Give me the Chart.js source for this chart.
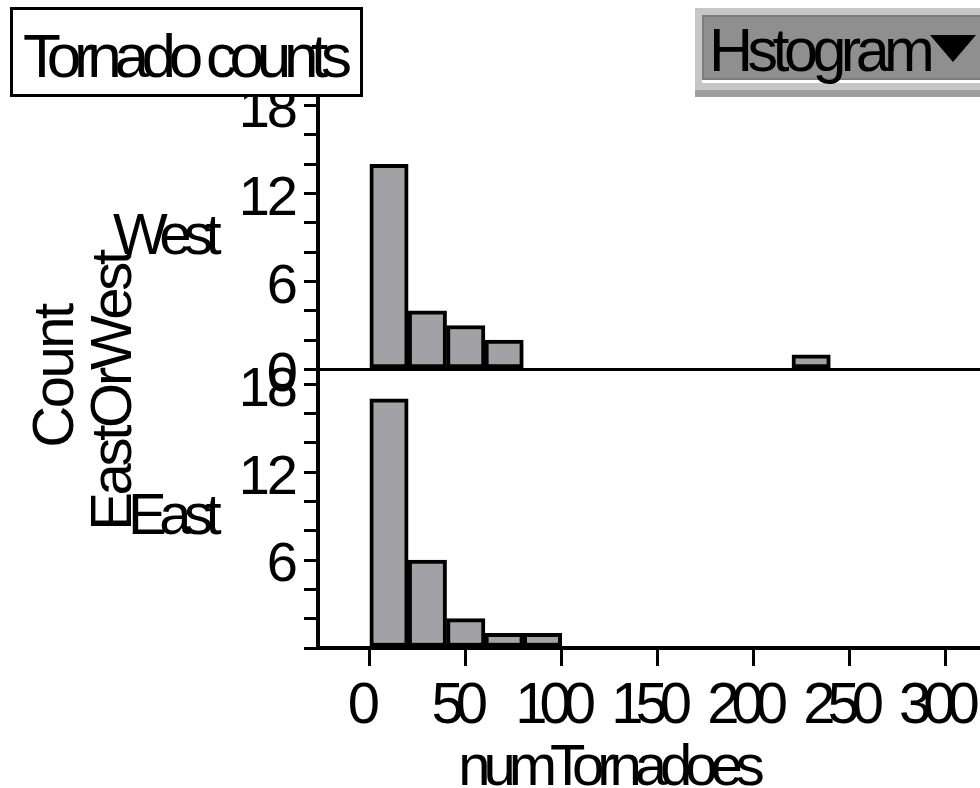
<!DOCTYPE html>
<html>
<head>
<meta charset="utf-8">
<script src="https://cdn.jsdelivr.net/npm/chart.js@4/dist/chart.umd.min.js"></script>
<style>
  html, body { margin: 0; padding: 0; background: #fff; }
  #wrap { position: relative; width: 980px; height: 788px; overflow: hidden;
          font-family: 'Liberation Sans', Arial, sans-serif; color: #000; }
  #chart { position: absolute; left: 0; top: 0; }
  #titleBox { position: absolute; left: 10px; top: 7px; width: 347px; height: 84px;
              border: 3px solid #000; background: #fff; }
  #titleBox span { position: absolute; left: 10px; top: 15px; font-size: 62px; line-height: 62px;
                   letter-spacing: -7.3px; white-space: nowrap; }
  #menu { position: absolute; left: 695px; top: 8px; width: 320px; height: 89px; background: #c6c6c6; }
  #menu .strip { position: absolute; left: 0; top: 82px; width: 100%; height: 7px; background: #9e9e9e; }
  #menu .face { position: absolute; left: 7px; top: 7px; width: 320px; height: 61px;
                background: #8f8f8f; border: 2px solid #7c7c7c; }
  #menu .shine { position: absolute; left: 7px; top: 72px; width: 320px; height: 3px; background: #fff; }
  #menu .label { position: absolute; left: 14px; top: 12px; font-size: 61px; line-height: 61px;
                 letter-spacing: -5.5px; white-space: nowrap; }
  #menu .arrow { position: absolute; left: 235px; top: 27px; width: 0; height: 0;
                 border-left: 23px solid transparent; border-right: 23px solid transparent;
                 border-top: 27px solid #000; }
</style>
</head>
<body>
<div id="wrap">
  <canvas id="chart" width="980" height="788"></canvas>
  <div id="titleBox"><span>Tornado counts</span></div>
  <div id="menu">
    <div class="face"></div>
    <div class="shine"></div>
    <div class="strip"></div>
    <div class="label">Hstogram</div>
    <div class="arrow"></div>
  </div>
</div>
<script>
// Histogram bins: lower edge of each bin (numTornadoes) and the count in it
const binWidth = 20;
const westBinStarts = [0, 20, 40, 60, 220];
const westCounts    = [14, 4, 3, 2, 1];
const eastBinStarts = [0, 20, 40, 60, 80];
const eastCounts    = [17, 6, 2, 1, 1];

// Axis ticks
const xTickValues = [0, 50, 100, 150, 200, 250, 300];
const yTickValues = [0, 2, 4, 6, 8, 10, 12, 14, 16, 18];
const yLabelEvery = 6;

const FONT = "'Liberation Sans', Arial, sans-serif";
const BAR_FILL = '#a2a1a6';

const toPoints = (starts, counts) =>
  starts.map((s, i) => ({ x: s + binWidth / 2, y: counts[i] }));

// Tick labels are set tightly: numbers on the x axis more so than the counts
const tickSpacing = { x: '-8px', y: '-3px' };
const tightTicks = {
  id: 'tightTicks',
  beforeDraw(chart) {
    for (const scale of Object.values(chart.scales)) {
      if (scale.$tight) continue;
      const drawLabels = scale.drawLabels;
      scale.drawLabels = function (area) {
        const ctx = this.ctx;
        const prev = ctx.letterSpacing;
        ctx.letterSpacing = tickSpacing[this.axis];
        drawLabels.call(this, area);
        ctx.letterSpacing = prev;
      };
      scale.$tight = true;
    }
  }
};

// Group labels (panel names) and axis titles
const axisText = {
  id: 'axisText',
  afterDraw(chart) {
    const { ctx, chartArea, scales } = chart;
    ctx.save();
    ctx.fillStyle = '#000';
    ctx.font = '58px ' + FONT;
    ctx.textBaseline = 'alphabetic';

    ctx.letterSpacing = '-7.5px';
    ctx.textAlign = 'right';
    const nameX = chartArea.left - 104;
    ctx.fillText('West', nameX, (scales.yWest.top + scales.yWest.bottom) / 2 + 24);
    ctx.fillText('East', nameX, (scales.yEast.top + scales.yEast.bottom) / 2 + 25);

    ctx.textAlign = 'center';
    const midY = (chartArea.top + chartArea.bottom) / 2;
    ctx.letterSpacing = '-3.3px';
    ctx.save();
    ctx.translate(chartArea.left - 187, midY + 22);
    ctx.rotate(-Math.PI / 2);
    ctx.fillText('EastOrWest', 0, 0);
    ctx.restore();

    ctx.letterSpacing = '-2.5px';
    ctx.save();
    ctx.translate(chartArea.left - 245, midY + 7);
    ctx.rotate(-Math.PI / 2);
    ctx.fillText('Count', 0, 0);
    ctx.restore();

    ctx.letterSpacing = '-7px';
    ctx.fillText('numTornadoes', 608, chart.height - 3);
    ctx.restore();
  }
};

const yScale = (showZeroLabel) => ({
  type: 'linear',
  position: 'left',
  stack: 'panels',
  stackWeight: 1,
  min: 0,
  max: 19,
  afterBuildTicks: s => { s.ticks = yTickValues.map(v => ({ value: v })); },
  afterFit: s => { s.width = 318; s.paddingTop = 0; s.paddingBottom = 0; },
  ticks: {
    autoSkip: false,
    color: '#000',
    font: { family: FONT, size: 56 },
    padding: 9,
    labelOffset: 6,
    callback: v => (v % yLabelEvery === 0 && (v !== 0 || showZeroLabel)) ? String(v) : ''
  },
  border: { display: true, color: '#000', width: 4 },
  grid: { drawOnChartArea: false, color: '#000', tickColor: '#000', lineWidth: 3, tickLength: 14 }
});

const westScale = yScale(true);
// the West panel's zero line runs across the plot, separating it from East
westScale.grid = {
  drawOnChartArea: true,
  color: c => (c.tick && c.tick.value === 0) ? '#000' : 'rgba(0,0,0,0)',
  tickColor: '#000',
  lineWidth: 3,
  tickLength: 14
};
const eastScale = yScale(false);

const barStyle = {
  backgroundColor: BAR_FILL,
  borderColor: '#000',
  borderWidth: 4,
  borderSkipped: false,
  grouped: false,
  barPercentage: 1,
  categoryPercentage: 1,
  xAxisID: 'x'
};

new Chart(document.getElementById('chart'), {
  type: 'bar',
  data: {
    datasets: [
      Object.assign({ label: 'East', yAxisID: 'yEast', data: toPoints(eastBinStarts, eastCounts) }, barStyle),
      Object.assign({ label: 'West', yAxisID: 'yWest', data: toPoints(westBinStarts, westCounts) }, barStyle)
    ]
  },
  options: {
    responsive: false,
    animation: false,
    layout: { padding: { top: 91, left: 0, right: 0, bottom: 0 } },
    plugins: { legend: { display: false }, tooltip: { enabled: false } },
    scales: {
      x: {
        type: 'linear',
        position: 'bottom',
        offset: false,
        min: -27,
        max: 318,
        afterBuildTicks: s => { s.ticks = xTickValues.map(v => ({ value: v })); },
        afterFit: s => { s.height = 140; s.paddingLeft = 0; s.paddingRight = 0; },
        ticks: {
          autoSkip: false,
          maxRotation: 0,
          color: '#000',
          font: { family: FONT, size: 58 },
          padding: 6,
          labelOffset: -10,
          callback: v => String(v)
        },
        border: { display: true, color: '#000', width: 4 },
        grid: { offset: false, drawOnChartArea: false, color: '#000', lineWidth: 3, tickLength: 18 }
      },
      yEast: eastScale,
      yWest: westScale
    }
  },
  plugins: [tightTicks, axisText]
});
</script>
</body>
</html>
